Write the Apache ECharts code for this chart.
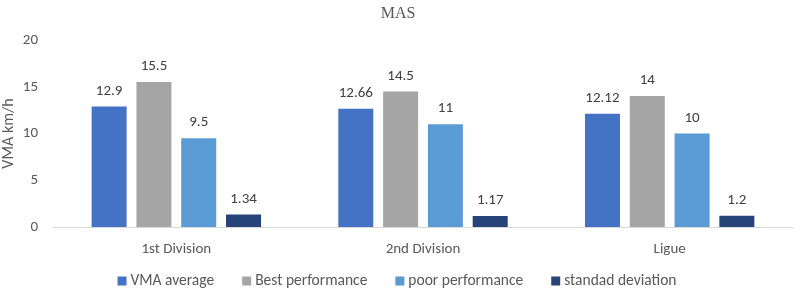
<!DOCTYPE html>
<html>
<head>
<meta charset="utf-8">
<script src="https://cdn.jsdelivr.net/npm/echarts@6/dist/echarts.min.js"></script>
<style>
  html, body { margin: 0; padding: 0; background: #fff; }
  #chart { width: 794px; height: 291px; }
</style>
</head>
<body>
<div id="chart"></div>
<script>
const categories = ['1st Division', '2nd Division', 'Ligue']
const seriesNames = ['VMA average', 'Best performance', 'poor performance', 'standad deviation']
const vmaAverage = [12.9, 12.66, 12.12]
const bestPerformance = [15.5, 14.5, 14]
const poorPerformance = [9.5, 11, 10]
const standardDeviation = [1.34, 1.17, 1.2]

const colors = ['#4472C4', '#A5A5A5', '#5B9BD5', '#264478']
const values = [vmaAverage, bestPerformance, poorPerformance, standardDeviation]

const chart = echarts.init(document.getElementById('chart'))

const font = 'Carlito, Lato, sans-serif'

chart.setOption({
  animation: false,
  color: colors,
  title: {
    text: 'MAS',
    left: 393,
    textAlign: 'center',
    top: 1,
    textStyle: { fontFamily: '"Liberation Serif", serif', fontSize: 16, fontWeight: 'normal', color: '#595959' },
  },
  legend: {
    data: seriesNames,
    bottom: 2,
    left: 'center',
    padding: 0,
    itemWidth: 9,
    itemHeight: 9,
    itemGap: 28,
    icon: 'rect',
    textStyle: { fontFamily: font, fontSize: 15.5, color: '#595959', padding: [0, 0, 0, -1] },
  },
  grid: { left: 53, right: 1, top: 40, bottom: 64, outerBoundsMode: 'none' },
  xAxis: {
    type: 'category',
    data: categories,
    axisTick: { show: false },
    axisLine: { lineStyle: { color: '#D9D9D9' } },
    axisLabel: { fontFamily: font, fontSize: 15, color: '#595959', margin: 15 },
  },
  yAxis: {
    type: 'value',
    min: 0,
    max: 20,
    interval: 5,
    name: 'VMA km/h',
    nameLocation: 'middle',
    nameGap: 36,
    nameMoveOverlap: false,
    nameTextStyle: { fontFamily: font, fontSize: 16, color: '#595959' },
    splitLine: { show: false },
    axisLine: { show: false },
    axisTick: { show: false },
    axisLabel: { fontFamily: font, fontSize: 15, color: '#595959', margin: 15 },
  },
  series: seriesNames.map((name, i) => ({
    name,
    type: 'bar',
    data: values[i],
    barWidth: 35,
    barGap: '28%',
    label: {
      show: true,
      position: 'top',
      distance: 8,
      fontFamily: font,
      fontSize: 15,
      color: '#404040',
    },
  })),
})
</script>
</body>
</html>
